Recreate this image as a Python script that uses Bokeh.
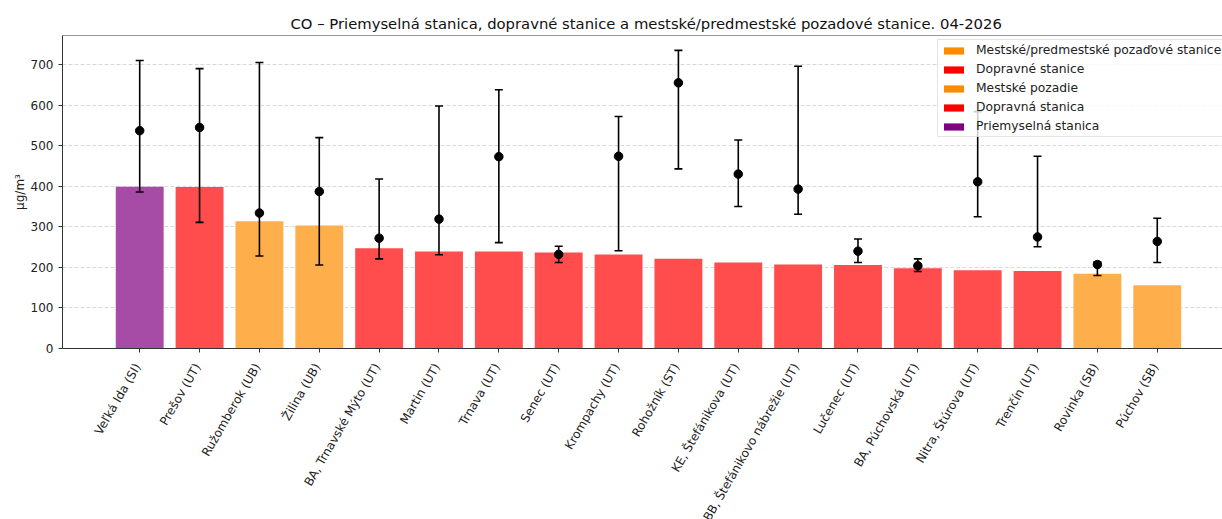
from bokeh.plotting import figure
from bokeh.layouts import column
from bokeh.models import (ColumnDataSource, Range1d, FixedTicker, Legend,
                          LegendItem, Span)
from bokeh.core.properties import value
from bokeh.embed import file_html
from bokeh.resources import INLINE

# CO concentrations per station, 04-2026 (µg/m³)
stations = [
    "Veľká Ida (SI)", "Prešov (UT)", "Ružomberok (UB)", "Žilina (UB)",
    "BA, Trnavské Mýto (UT)", "Martin (UT)", "Trnava (UT)", "Senec (UT)",
    "Krompachy (UT)", "Rohožník (ST)", "KE, Štefánikova (UT)",
    "BB, Štefánikovo nábrežie (UT)", "Lučenec (UT)", "BA, Púchovská (UT)",
    "Nitra, Štúrova (UT)", "Trenčín (UT)", "Rovinka (SB)", "Púchov (SB)",
]
station_type = ["SI", "UT", "UB", "UB", "UT", "UT", "UT", "UT", "UT", "ST",
                "UT", "UT", "UT", "UT", "UT", "UT", "SB", "SB"]
bar_values = [399, 398, 314, 303, 247, 239, 239, 237, 232, 221,
              212, 207, 206, 198, 193, 191, 184, 156]
point_values = [537, 545, 334, 387, 272, 319, 473, 232, 474, 655,
                430, 393, 240, 204, 411, 275, 207, 264]
range_low = [386, 311, 228, 206, 221, 231, 261, 212, 241, 443,
             350, 331, 212, 190, 325, 251, 180, 212]
range_high = [710, 690, 705, 520, 418, 598, 638, 252, 572, 735,
              514, 696, 270, 221, 584, 474, 214, 321]
y_ticks = [0, 100, 200, 300, 400, 500, 600, 700]

# legend entries: (label, station type)
legend_entries = [
    ("Mestské/predmestské pozaďové stanice", "SB"),
    ("Dopravné stanice", "UT"),
    ("Mestské pozadie", "UB"),
    ("Dopravná stanica", "ST"),
    ("Priemyselná stanica", "SI"),
]

TITLE = ("CO – Priemyselná stanica, dopravné stanice a mestské/predmestské "
         "pozadové stanice. 04-2026")

FONT = "DejaVu Sans"
INK = "#222222"
AXIS = "#333333"
full_color = {"SI": "#800080", "UT": "#ff0000", "ST": "#ff0000",
              "UB": "#ff8c00", "SB": "#ff8c00"}
# bar fills: the full colours at 70 % over white
bar_color = {"SI": "#a64ca6", "UT": "#ff4c4c", "ST": "#ff4c4c",
             "UB": "#ffae4c", "SB": "#ffae4c"}

n = len(stations)
xs = list(range(n))
y_top = max(range_high) * 1.05

src = ColumnDataSource(dict(
    x=xs, bar=bar_values, pt=point_values, lo=range_low, hi=range_high,
    color=[bar_color[t] for t in station_type], name=stations,
))

x_range = Range1d(-1.29, 18.09)

# ---- main chart ----
p = figure(width=1222, height=358, output_backend="svg", toolbar_location=None,
           x_range=x_range, y_range=Range1d(0, y_top),
           min_border_left=62, min_border_right=0, min_border_top=35,
           min_border_bottom=10)
p.outline_line_color = None
p.background_fill_color = "white"
p.border_fill_color = "white"

p.title.text = TITLE
p.title.align = "left"
p.title.offset = 228
p.title.text_font = FONT
p.title.text_font_size = "14.8px"
p.title.text_font_style = "normal"
p.title.text_color = "#111111"
p.title.standoff = 8

# bars
p.vbar(x="x", top="bar", width=0.8, source=src, fill_color="color",
       line_color=None)

# min–max range with caps, and the point value
p.segment(x0="x", y0="lo", x1="x", y1="hi", source=src, line_color="black",
          line_width=1.6)
p.scatter(x="x", y="lo", source=src, marker="dash", size=8, line_color="black",
          line_width=1.6)
p.scatter(x="x", y="hi", source=src, marker="dash", size=8, line_color="black",
          line_width=1.6)
p.scatter(x="x", y="pt", source=src, marker="circle", size=8.5,
          fill_color="black", line_color="black")

# y axis
p.yaxis.ticker = FixedTicker(ticks=y_ticks)
p.yaxis.axis_label = "µg/m³"
p.yaxis.axis_label_text_font = FONT
p.yaxis.axis_label_text_font_size = "12px"
p.yaxis.axis_label_text_font_style = "normal"
p.yaxis.axis_label_text_color = INK
p.yaxis.axis_label_standoff = 1
p.yaxis.major_tick_line_color = AXIS
p.yaxis.major_tick_out = 4
p.yaxis.major_tick_in = 0
p.yaxis.minor_tick_line_color = None
p.yaxis.major_label_text_font = FONT
p.yaxis.major_label_text_color = INK
p.yaxis.major_label_text_font_size = "12px"
p.yaxis.major_label_standoff = 5

# x axis: tick marks only, the station names are set below the chart
p.xaxis.ticker = FixedTicker(ticks=[], minor_ticks=xs)
p.xaxis.minor_tick_line_color = AXIS
p.xaxis.minor_tick_out = 4
p.xaxis.minor_tick_in = 0
p.xaxis.major_tick_line_color = None
p.xaxis.major_label_standoff = 0

for ax in (p.xaxis, p.yaxis):
    ax.axis_line_color = AXIS
    ax.axis_line_width = 1

p.xgrid.grid_line_color = None
p.ygrid.grid_line_color = "#cfcfcf"
p.ygrid.grid_line_dash = "4 2"
p.ygrid.grid_line_width = 0.8

# top spine
p.add_layout(Span(location=y_top, dimension="width", line_color=AXIS,
                  line_width=1))

# legend with full-strength swatches (zero-height bars carry the colours)
items = []
for label, t in legend_entries:
    r = p.vbar(x=[0], bottom=[0], top=[0], width=0.8, fill_color=full_color[t],
               line_color=None)
    items.append(LegendItem(label=label, renderers=[r]))
legend = Legend(items=items, location=(875, 211), label_text_font=FONT,
                label_text_font_size="12.3px", label_text_color=INK,
                glyph_width=25, glyph_height=9, label_height=14, spacing=5,
                padding=3, margin=0, label_standoff=10,
                background_fill_color="white", background_fill_alpha=0.8,
                border_line_color="#cccccc", border_line_width=1)
p.add_layout(legend)

# ---- rotated station names under the ticks ----
q = figure(width=1222, height=161, output_backend="svg", toolbar_location=None,
           x_range=x_range, y_range=Range1d(-161, 0),
           min_border_left=62, min_border_right=0, min_border_top=0,
           min_border_bottom=0)
q.axis.visible = False
q.grid.grid_line_color = None
q.outline_line_color = None
q.background_fill_color = "white"
q.border_fill_color = "white"
q.text(x="x", y=-6, text="name", source=src, angle=60, angle_units="deg",
       text_align="right", text_baseline="middle", x_offset=-2,
       text_font=value(FONT), text_font_size="12px", text_color=INK)

layout = column(p, q, spacing=0)
open("out.html", "w").write(file_html(layout, INLINE))
